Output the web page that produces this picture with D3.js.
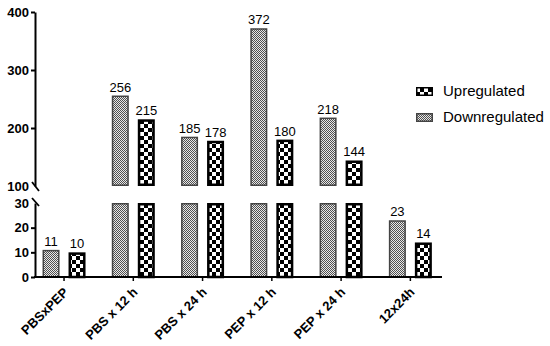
<!DOCTYPE html>
<html><head><meta charset="utf-8">
<script src="https://cdn.jsdelivr.net/npm/d3@7"></script>
<style>
body{margin:0;background:#fff;}
svg{display:block;font-family:"Liberation Sans",Arial,sans-serif;}
</style></head>
<body><svg id="c" width="550" height="346"></svg>
<script>
const categories = ["PBSxPEP","PBS x 12 h","PBS x 24 h","PEP x 12 h","PEP x 24 h","12x24h"];
const downregulated = [11,256,185,372,218,23];
const upregulated = [10,215,178,180,144,14];
const seriesNames = ["Downregulated","Upregulated"];
const lowTicks = [0,10,20,30];
const highTicks = [100,200,300,400];

const svg = d3.select("#c");
const defs = svg.append("defs");
const pd = defs.append("pattern").attr("id","pDown").attr("patternUnits","userSpaceOnUse")
  .attr("width",2).attr("height",2);
pd.append("rect").attr("width",2).attr("height",2).attr("fill","#e8e8e8");
pd.append("rect").attr("x",0).attr("y",0).attr("width",1).attr("height",1).attr("fill","#505050");
pd.append("rect").attr("x",1).attr("y",1).attr("width",1).attr("height",1).attr("fill","#505050");
const pu = defs.append("pattern").attr("id","pUp").attr("patternUnits","userSpaceOnUse")
  .attr("width",8).attr("height",8);
pu.append("rect").attr("width",8).attr("height",8).attr("fill","#000");
pu.append("rect").attr("x",0).attr("y",0).attr("width",4).attr("height",4).attr("fill","#fff");
pu.append("rect").attr("x",4).attr("y",4).attr("width",4).attr("height",4).attr("fill","#fff");

const baseY = 277;
const yLow = d3.scaleLinear().domain([0,30]).range([277,203]);
const yHigh = d3.scaleLinear().domain([100,400]).range([186,12]);
const x = d3.scaleBand().domain(categories).range([29.4,445]);
const xs = d3.scaleBand().domain(seriesNames).range([-21.5,21.5]).paddingInner(9/26).paddingOuter(0);

const styles = {
  "Downregulated": {fill:"url(#pDown)", stroke:"#444", sw:1.5},
  "Upregulated": {fill:"url(#pUp)", stroke:"#000", sw:2.5}
};

const data = [];
categories.forEach((c,i)=>{
  data.push({cat:c, s:"Downregulated", v:downregulated[i]});
  data.push({cat:c, s:"Upregulated", v:upregulated[i]});
});

const g = svg.append("g");
data.forEach(d=>{
  const st = styles[d.s];
  const cx = x(d.cat) + x.bandwidth()/2;
  const bx = cx + xs(d.s);
  const bw = xs.bandwidth();
  const h = st.sw/2;
  const topLow = yLow(Math.min(d.v,30));
  g.append("rect").attr("x",bx+h).attr("y",topLow+h).attr("width",bw-2*h)
   .attr("height",Math.max(0,yLow(0)-topLow-h))
   .attr("fill",st.fill).attr("stroke",st.stroke).attr("stroke-width",st.sw);
  let labelY = topLow;
  if (d.v > 100) {
    const topHigh = yHigh(d.v);
    g.append("rect").attr("x",bx+h).attr("y",topHigh+h).attr("width",bw-2*h)
     .attr("height",yHigh(100)-topHigh-2*h)
     .attr("fill",st.fill).attr("stroke",st.stroke).attr("stroke-width",st.sw);
    labelY = topHigh;
  }
  g.append("text").attr("x",bx+bw/2).attr("y",labelY-4).attr("text-anchor","middle")
   .attr("font-size",13).attr("fill","#000").text(d.v);
});

const axHigh = svg.append("g").attr("transform","translate(35,0)")
  .call(d3.axisLeft(yHigh).tickValues(highTicks).tickSize(4).tickSizeOuter(0).tickFormat(d3.format("d")));
const axLow = svg.append("g").attr("transform","translate(35,0)")
  .call(d3.axisLeft(yLow).tickValues(lowTicks).tickSize(4).tickSizeOuter(0).tickFormat(d3.format("d")));
[axHigh,axLow].forEach(a=>{
  a.select(".domain").attr("stroke","#000").attr("stroke-width",2);
  a.selectAll(".tick line").attr("stroke","#000").attr("stroke-width",2);
  a.selectAll(".tick text").attr("font-size",13).attr("font-weight","bold")
   .attr("font-family","'Liberation Sans',Arial,sans-serif").attr("fill","#000").attr("x",-6);
});
axHigh.selectAll(".tick").filter(d=>d===100).select("line").remove();
axLow.selectAll(".tick").filter(d=>d===30).select("line").remove();
svg.append("line").attr("x1",32).attr("y1",182).attr("x2",39).attr("y2",191).attr("stroke","#000").attr("stroke-width",1.8);
svg.append("line").attr("x1",32).attr("y1",198).attr("x2",39).attr("y2",206).attr("stroke","#000").attr("stroke-width",1.8);

const xa = svg.append("g").attr("transform",`translate(0,${baseY})`)
  .call(d3.axisBottom(x).tickSize(4).tickSizeOuter(0));
xa.select(".domain").attr("d","M34,0H442").attr("stroke","#000").attr("stroke-width",2);
xa.selectAll(".tick line").attr("stroke","#000").attr("stroke-width",1.5);
xa.selectAll(".tick text").attr("font-size",13).attr("font-weight","bold")
  .attr("font-family","'Liberation Sans',Arial,sans-serif").attr("fill","#000")
  .attr("text-anchor","end").attr("y",0).attr("dy",0)
  .attr("transform","translate(5,16) rotate(-45)");

const legendItems = [["Upregulated",87],["Downregulated",113]];
legendItems.forEach(([name,yy])=>{
  const st = styles[name];
  svg.append("rect").attr("x",416.75).attr("y",yy+0.75).attr("width",15.5).attr("height",7.5)
    .attr("fill",st.fill).attr("stroke",st.stroke).attr("stroke-width",1.5);
  svg.append("text").attr("x",443).attr("y",yy+8.5).attr("font-size",15).attr("fill","#000").text(name);
});
</script></body></html>
